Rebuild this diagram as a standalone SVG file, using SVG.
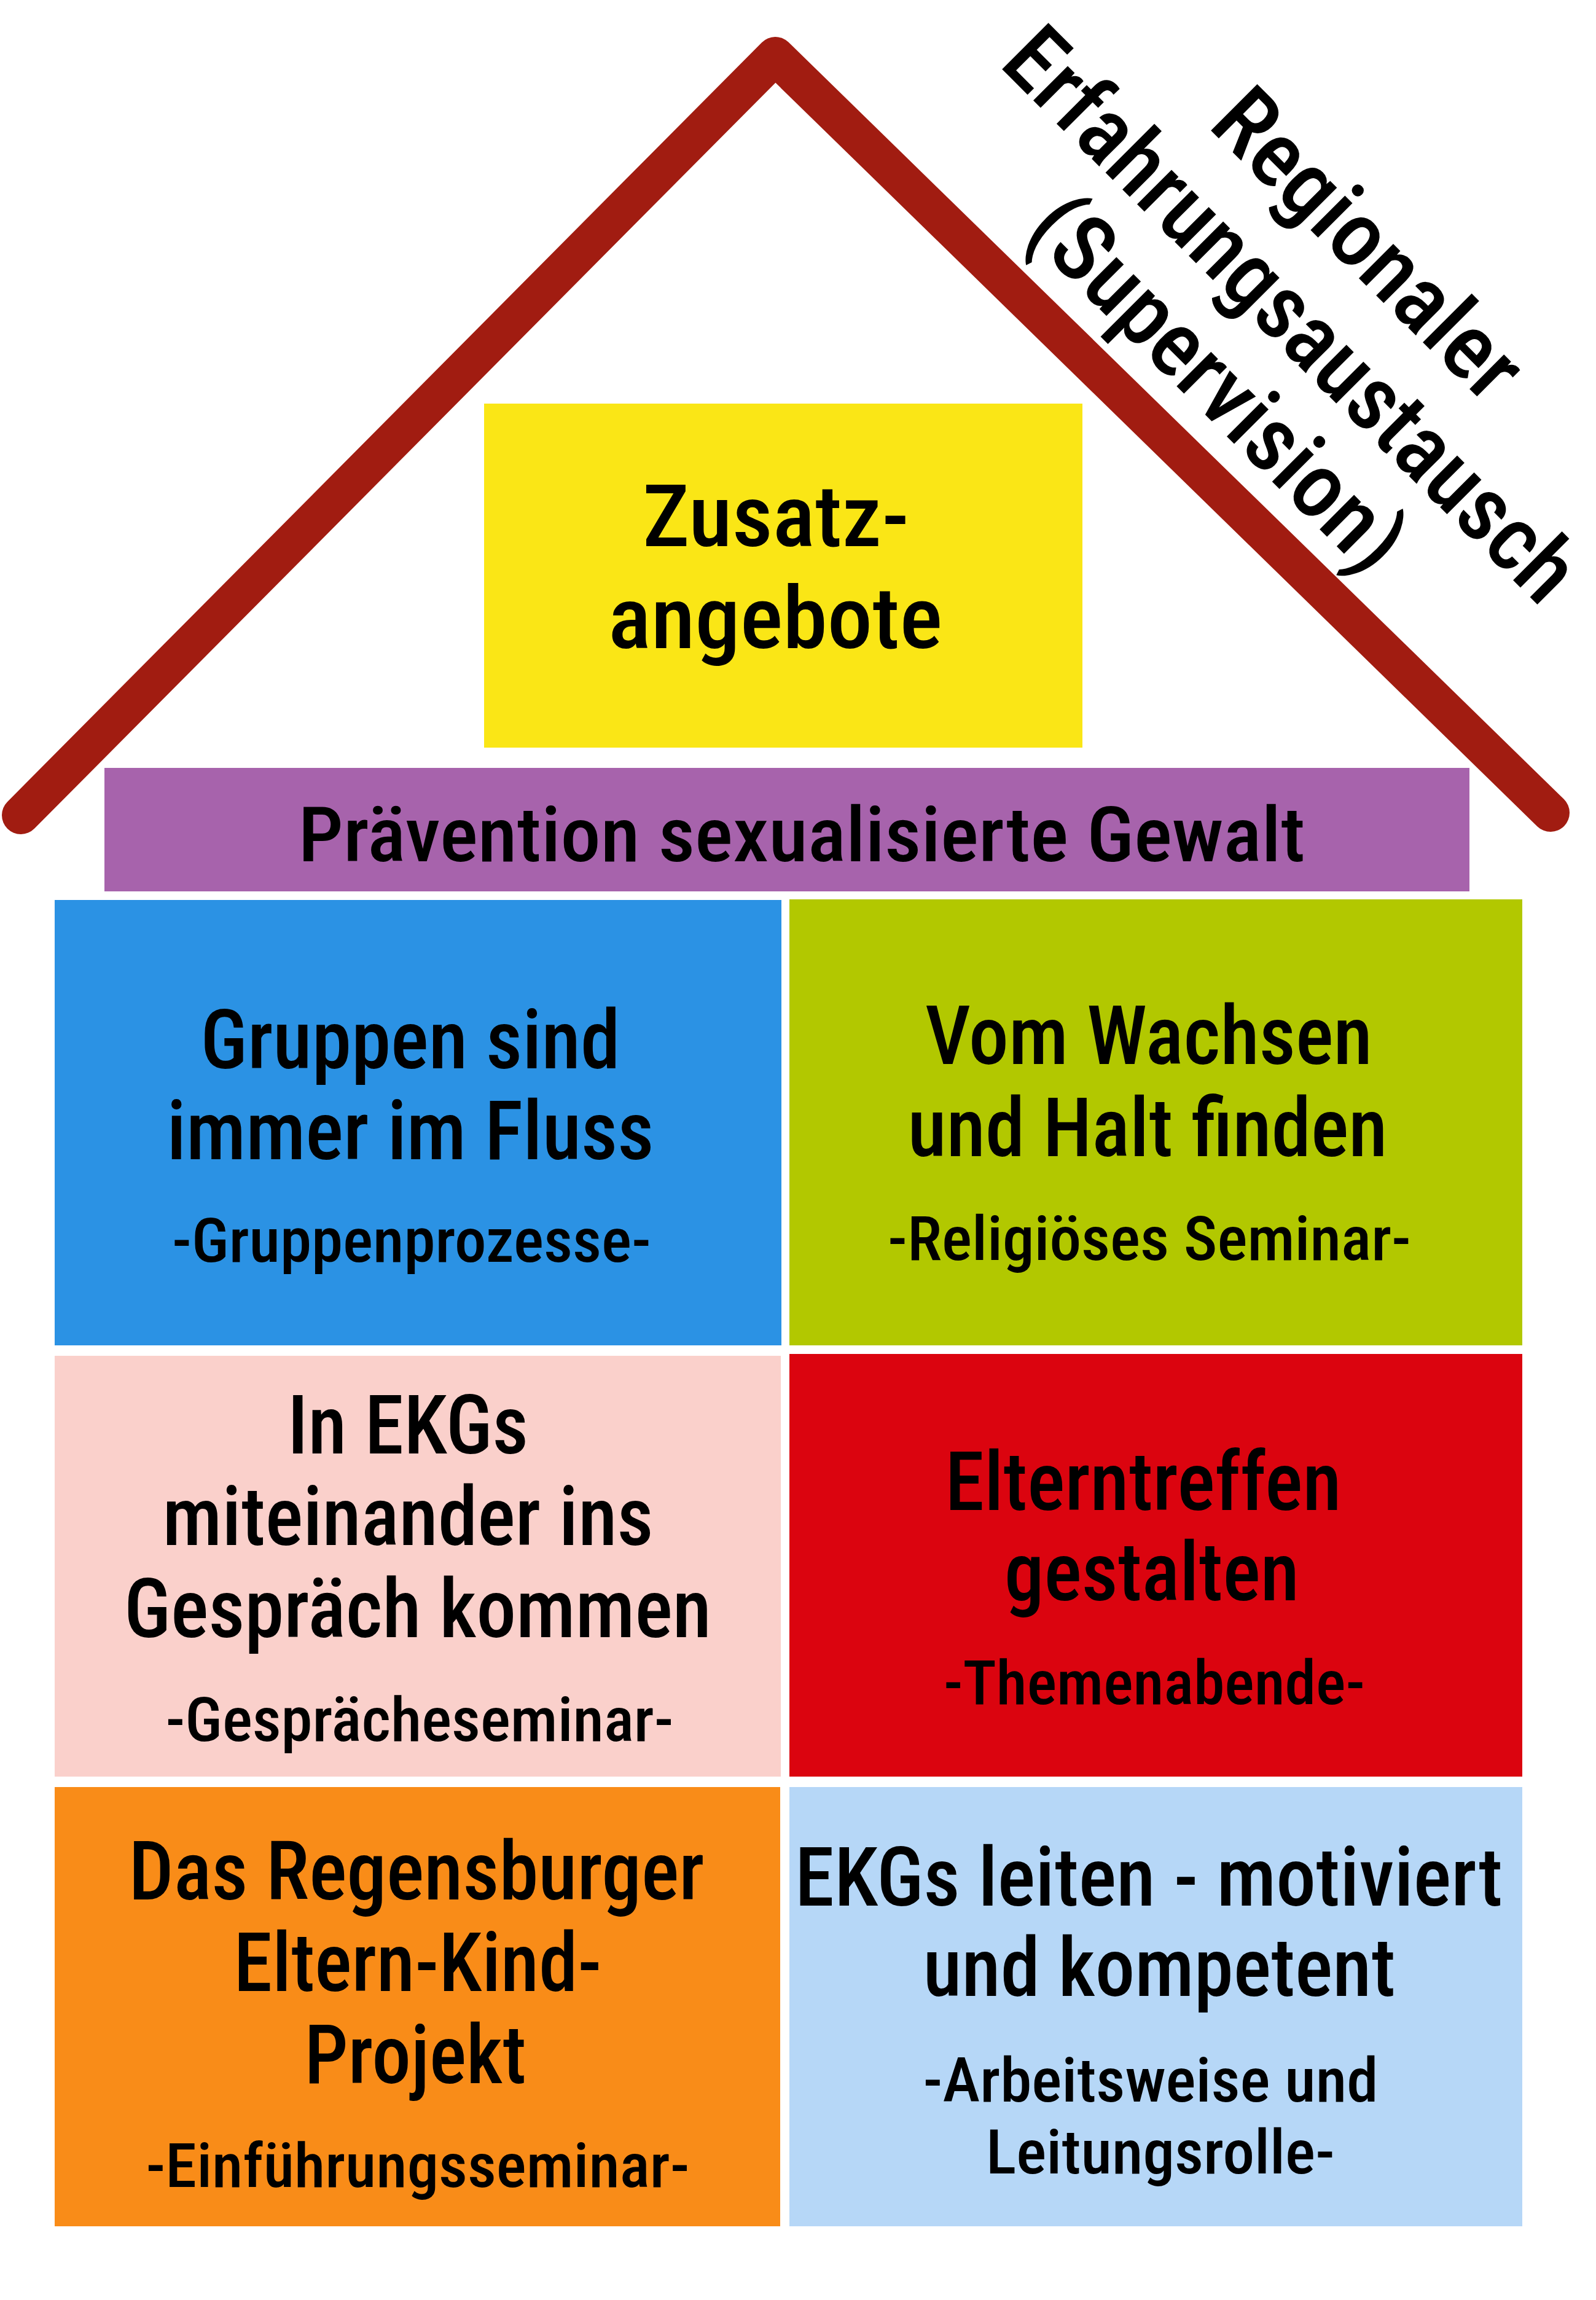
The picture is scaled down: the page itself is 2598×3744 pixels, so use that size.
<svg xmlns="http://www.w3.org/2000/svg" width="2598" height="3744" viewBox="0 0 2598 3744">
<style>
text{font-family:"Roboto Condensed",Roboto,"Liberation Sans",sans-serif;font-weight:500;fill:#000;text-anchor:middle}
.big{font-size:134px}
.sub{font-size:100px}
.rot{font-size:150px}
</style>
<rect x="0" y="0" width="2598" height="3744" fill="#fff"/>
<g id="roof">
<path d="M34,1327 L1262,91 L2524,1323" fill="none" stroke="#A11C11" stroke-width="62" stroke-linecap="round" stroke-linejoin="round"/>
</g>
<g id="supervision" transform="translate(1630,120) rotate(45)">
<text class="rot" x="619" y="-176" textLength="645" lengthAdjust="spacingAndGlyphs">Regionaler</text>
<text class="rot" x="611" y="-6" textLength="1250" lengthAdjust="spacingAndGlyphs">Erfahrungsaustausch</text>
<text class="rot" x="606" y="158" textLength="795" lengthAdjust="spacingAndGlyphs">(Supervision)</text>
</g>
<g id="zusatz">
<rect x="788" y="657" width="974" height="560" fill="#FAE616"/>
<text x="1263" y="889" style="font-size:141px" textLength="434" lengthAdjust="spacingAndGlyphs">Zusatz-</text>
<text x="1262" y="1055" style="font-size:141px" textLength="544" lengthAdjust="spacingAndGlyphs">angebote</text>
</g>
<g id="praevention">
<rect x="170" y="1250" width="2222" height="201" fill="#A763AC"/>
<text x="1305" y="1402" style="font-size:125px" textLength="1639" lengthAdjust="spacingAndGlyphs">Prävention sexualisierte Gewalt</text>
</g>
<g id="gruppen">
<rect x="89" y="1465" width="1183" height="725" fill="#2B92E4"/>
<text class="big" x="668" y="1739" textLength="683" lengthAdjust="spacingAndGlyphs">Gruppen sind</text>
<text class="big" x="668" y="1887" textLength="793" lengthAdjust="spacingAndGlyphs">immer im Fluss</text>
<text class="sub" x="670" y="2054" textLength="780" lengthAdjust="spacingAndGlyphs">-Gruppenprozesse-</text>
</g>
<g id="wachsen">
<rect x="1285" y="1464" width="1193" height="726" fill="#B2C800"/>
<text class="big" x="1870" y="1732" textLength="728" lengthAdjust="spacingAndGlyphs">Vom Wachsen</text>
<text class="big" x="1868" y="1882" textLength="781" lengthAdjust="spacingAndGlyphs">und Halt finden</text>
<text class="sub" x="1871" y="2051" textLength="852" lengthAdjust="spacingAndGlyphs">-Religiöses Seminar-</text>
</g>
<g id="gespraech">
<rect x="89" y="2207" width="1182" height="685" fill="#FAD0CB"/>
<text class="big" x="664" y="2366" textLength="392" lengthAdjust="spacingAndGlyphs">In EKGs</text>
<text class="big" x="664" y="2515" textLength="799" lengthAdjust="spacingAndGlyphs">miteinander ins</text>
<text class="big" x="680" y="2665" textLength="956" lengthAdjust="spacingAndGlyphs">Gespräch kommen</text>
<text class="sub" x="683" y="2834" textLength="827" lengthAdjust="spacingAndGlyphs">-Gesprächeseminar-</text>
</g>
<g id="elterntreffen">
<rect x="1285" y="2204" width="1193" height="688" fill="#DB040F"/>
<text class="big" x="1861" y="2458" textLength="645" lengthAdjust="spacingAndGlyphs">Elterntreffen</text>
<text class="big" x="1875" y="2605" textLength="480" lengthAdjust="spacingAndGlyphs">gestalten</text>
<text class="sub" x="1879" y="2774" textLength="686" lengthAdjust="spacingAndGlyphs">-Themenabende-</text>
</g>
<g id="projekt">
<rect x="89" y="2909" width="1181" height="715" fill="#F98C18"/>
<text class="big" x="678" y="3092" textLength="937" lengthAdjust="spacingAndGlyphs">Das Regensburger</text>
<text class="big" x="680" y="3241" textLength="599" lengthAdjust="spacingAndGlyphs">Eltern-Kind-</text>
<text class="big" x="676" y="3391" textLength="361" lengthAdjust="spacingAndGlyphs">Projekt</text>
<text class="sub" x="680" y="3560" textLength="885" lengthAdjust="spacingAndGlyphs">-Einführungsseminar-</text>
</g>
<g id="leiten">
<rect x="1285" y="2909" width="1193" height="715" fill="#B6D7F7"/>
<text class="big" x="1870" y="3102" textLength="1152" lengthAdjust="spacingAndGlyphs">EKGs leiten - motiviert</text>
<text class="big" x="1887" y="3249" textLength="769" lengthAdjust="spacingAndGlyphs">und kompetent</text>
<text class="sub" x="1873" y="3421" textLength="741" lengthAdjust="spacingAndGlyphs">-Arbeitsweise und</text>
<text class="sub" x="1889" y="3538" textLength="568" lengthAdjust="spacingAndGlyphs">Leitungsrolle-</text>
</g>
<g id="connectors"></g>
</svg>
